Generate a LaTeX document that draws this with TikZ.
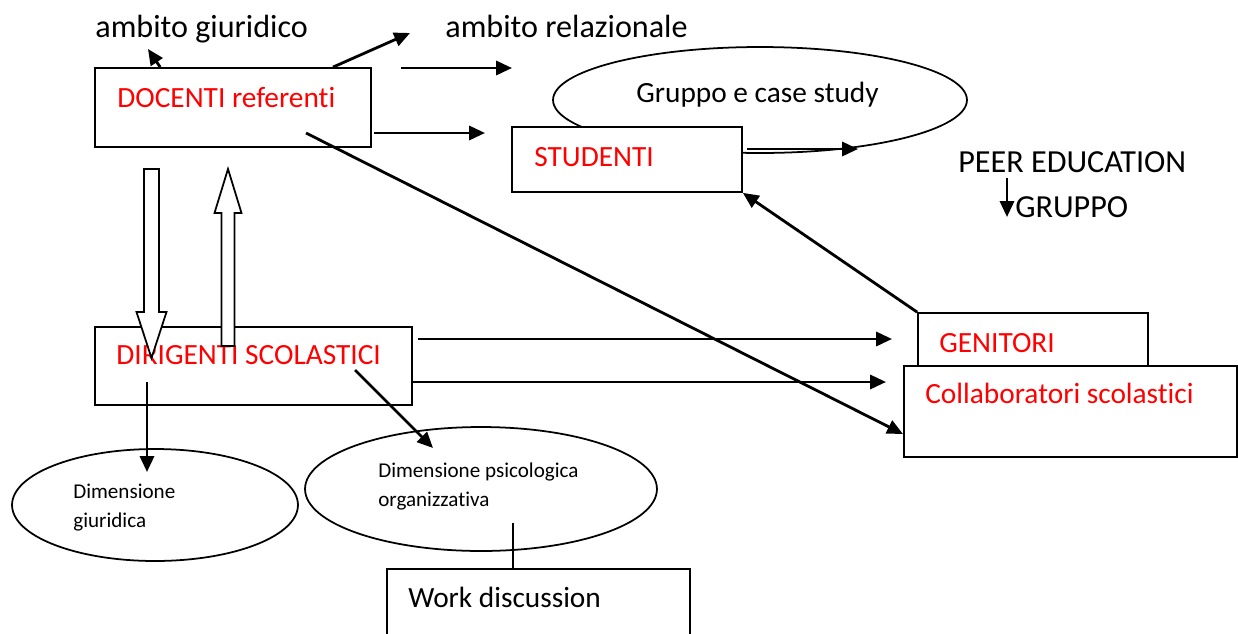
\documentclass[tikz,border=0pt]{standalone}
\usepackage{fontspec}
\setmainfont{Carlito}[Ligatures=NoCommon]
\usetikzlibrary{arrows.meta,shapes.geometric}

\tikzset{
  box/.style={draw, line width=1pt, fill=white, inner sep=0pt},
  oval/.style={ellipse, draw, line width=1pt, fill=white, inner sep=0pt},
  big/.style={inner sep=0pt, anchor=base west, font=\fontsize{16.7}{20}\selectfont},
  free/.style={big, font=\fontsize{18.3}{22}\selectfont},
  small/.style={inner sep=0pt, anchor=base west, align=left, font=\fontsize{12}{16.5}\selectfont},
  arr/.style={line width=1.6pt, -{Triangle[length=9pt,width=8pt]}},
  hollow/.style={draw, line width=1pt, fill=white}
}

\begin{document}
\begin{tikzpicture}[x=0.02cm,y=-0.02cm]
		\useasboundingbox (0,0) rectangle (1238,633);
		% Draw ovals and boxes
		\node[oval, minimum width=8.28cm, minimum height=2.12cm] (gruppo) at (760,100) {};
		\node[box, minimum width=4.6cm, minimum height=1.3cm] (studenti) at (627,159.5) {};
		\node[box, minimum width=5.52cm, minimum height=1.58cm] (docenti) at (233,107.5) {};
		\node[box, minimum width=4.6cm, minimum height=1.06cm] (genitori) at (1033,339.5) {};
		\node[box, minimum width=6.66cm, minimum height=1.82cm] (collab) at (1070.5,411.5) {};
		\node[box, minimum width=6.34cm, minimum height=1.56cm] (dirigenti) at (253.5,366) {};
		\node[oval, minimum width=5.72cm, minimum height=2.24cm] (giur) at (155,505) {};
		\node[oval, minimum width=7.04cm, minimum height=2.48cm] (psico) at (481,489) {};
		\node[box, minimum width=6.06cm, minimum height=1.52cm] (work) at (538.5,607) {};
		% Draw texts
		\node[free] (ambG) at (95,37) {ambito giuridico};
		\node[free] (ambR) at (445,37) {ambito relazionale};
		\node[big, red] (docT) at (117,107) {DOCENTI referenti};
		\node[big] (gruppoT) at (636,102) {Gruppo e case study};
		\node[big, red] (stuT) at (534,166) {STUDENTI};
		\node[free] (peer) at (958,172) {PEER EDUCATION};
		\node[free] (grp) at (1015,217) {GRUPPO};
		\node[big, red] (genT) at (939,352) {GENITORI};
		\node[big, red] (colT) at (925,403) {Collaboratori scolastici};
		\node[big, red] (dirT) at (116,364) {DIRIGENTI SCOLASTICI};
		\node[small] (giurT) at (73,527) {Dimensione\\giuridica};
		\node[small] (psiT) at (378,506) {Dimensione psicologica\\organizzativa};
		\node[big] (workT) at (408,607) {Work discussion};
		% Draw hollow arrows between DOCENTI and DIRIGENTI
		\coordinate (downTop) at (151.5,169);
		\coordinate (upTip) at (228,169);
		\draw[hollow] (downTop) ++(-7.5,0) -- ++(0,143) -- ++(-7.5,0) -- ++(15,46) -- ++(15,-46) -- ++(-7.5,0) -- ++(0,-143) -- cycle;
		\draw[hollow] (upTip) -- ++(13.5,44) -- ++(-7,0) -- ++(0,133) -- ++(-13,0) -- ++(0,-133) -- ++(-7,0) -- cycle;
		% Free ends of the connectors
		\foreach \name/\x/\y in {jurTip/148/49, relTip/410/33, relA/401/68, relB/512/68,
			stuA/374/133, stuB/485/133, diagA/306/133, diagB/903/434,
			caseA/747/149, caseB/858/149, peerA/1007/178, peerB/1007/217,
			genA/418/339, genB/892/339, colB/886/382, girA/147/382, girB/147/472,
			psiA/355/370, psiB/433/448, workA/513/523}
		{\coordinate (\name) at (\x,\y);}
		% Draw connectors
		\draw[arr] (docenti.151) -- (jurTip);
		\draw[arr] (docenti.22) -- (relTip);
		\foreach \a/\b in {relA/relB, stuA/stuB, diagA/diagB, caseA/caseB, peerA/peerB,
			genA/genB, girA/girB, psiA/psiB}
		{\draw[arr] (\a) -- (\b);}
		\draw[arr] (dirigenti.east |- colB) -- (colB);
		\draw[arr] (genitori.north west) -- (studenti.south east);
		\draw[line width=1.2pt] (workA) -- (workA |- work.north);
	\end{tikzpicture}
\end{document}
